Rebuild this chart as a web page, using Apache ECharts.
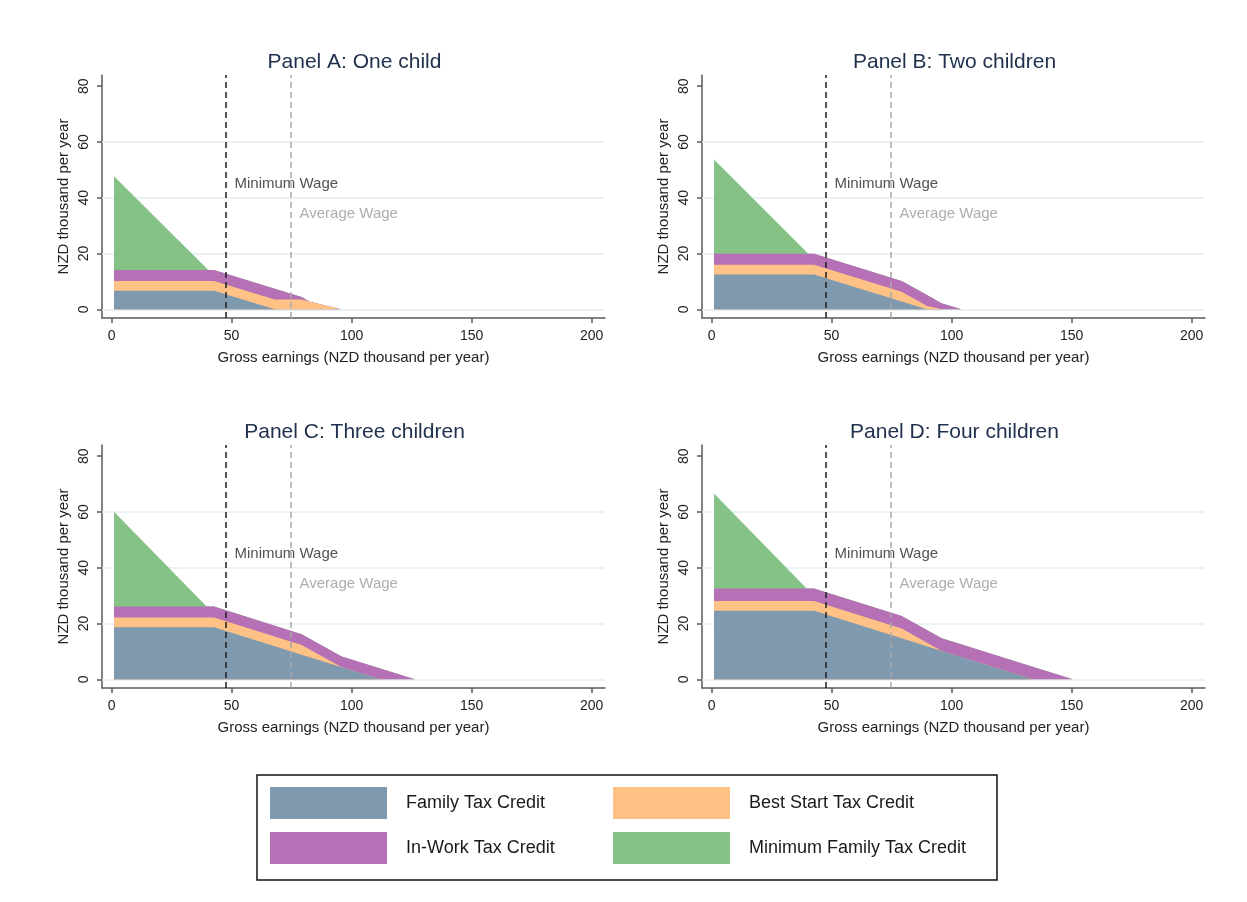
<!DOCTYPE html>
<html>
<head>
<meta charset="utf-8">
<title>Working for Families tax credits by number of children</title>
<script src="https://cdn.jsdelivr.net/npm/echarts@6/dist/echarts.min.js"></script>
<style>
  html, body { margin: 0; padding: 0; background: #ffffff; }
  #chart { width: 1247px; height: 902px; }
</style>
</head>
<body>
<div id="chart"></div>
<script>
// ---- Data (NZD thousand per year) ----
const creditNames = ['Family Tax Credit', 'Best Start Tax Credit', 'In-Work Tax Credit', 'Minimum Family Tax Credit'];
const panelTitles = ['Panel A: One child', 'Panel B: Two children', 'Panel C: Three children', 'Panel D: Four children'];
const xTicks = [0, 50, 100, 150, 200];
const yTicks = [0, 20, 40, 60, 80];
const yGridLines = [0, 20, 40, 60];
const wageNames = ['Minimum Wage', 'Average Wage'];
const wageValues = [47.5, 74.6];

// Panel A: one child
const earningsA  = [1, 40.3, 42.7, 68, 79.2, 82.4, 95.5];
const familyA    = [6.7, 6.7, 6.7, 0, 0, 0, 0];
const bestStartA = [3.5, 3.5, 3.5, 3.5, 3.5, 2.8, 0];
const inWorkA    = [3.9, 3.9, 3.9, 3.9, 0.9, 0, 0];
const minFamilyA = [33.6, 0, 0, 0, 0, 0, 0];

// Panel B: two children
const earningsB  = [1, 40.3, 42.7, 79.2, 89.6, 95.8, 104.1];
const familyB    = [12.5, 12.5, 12.5, 2.8, 0, 0, 0];
const bestStartB = [3.5, 3.5, 3.5, 3.5, 1.3, 0, 0];
const inWorkB    = [3.9, 3.9, 3.9, 3.9, 3.9, 2.2, 0];
const minFamilyB = [33.8, 0, 0, 0, 0, 0, 0];

// Panel C: three children
const earningsC  = [1, 39.6, 42.7, 79.2, 95.9, 112, 126.4];
const familyC    = [18.7, 18.7, 18.7, 8.8, 4.3, 0, 0];
const bestStartC = [3.5, 3.5, 3.5, 3.5, 0, 0, 0];
const inWorkC    = [3.9, 3.9, 3.9, 3.9, 3.9, 3.9, 0];
const minFamilyC = [34.0, 0, 0, 0, 0, 0, 0];

// Panel D: four children
const earningsD  = [1, 39.6, 42.7, 79.2, 95.9, 133.8, 150.5];
const familyD    = [24.6, 24.6, 24.6, 14.7, 10.2, 0, 0];
const bestStartD = [3.5, 3.5, 3.5, 3.5, 0, 0, 0];
const inWorkD    = [4.5, 4.5, 4.5, 4.5, 4.5, 4.5, 0];
const minFamilyD = [34.0, 0, 0, 0, 0, 0, 0];

// ---- Presentation ----
const FONT = '"Liberation Sans", Arial, Helvetica, sans-serif';
const creditColors = ['#7f99ae', '#fec186', '#b670b6', '#85c285'];
const wageLineColors = ['#1e1e1e', '#a8a8a8'];
const wageTextColors = ['#262626', '#999999'];
const wageLabelHeights = [44.9, 34.4];
const wageLabelShift = 3.5;

const panels = [
  { x: earningsA, parts: [familyA, bestStartA, inWorkA, minFamilyA] },
  { x: earningsB, parts: [familyB, bestStartB, inWorkB, minFamilyB] },
  { x: earningsC, parts: [familyC, bestStartC, inWorkC, minFamilyC] },
  { x: earningsD, parts: [familyD, bestStartD, inWorkD, minFamilyD] }
];

// running totals: layer k is drawn from 0 up to the sum of credits 0..k
function cumulative(parts) {
  const out = [];
  parts.forEach((arr, k) => {
    out.push(arr.map((v, i) => (k ? out[k - 1][i] : 0) + v));
  });
  return out;
}

const gridLeft = [102, 702];
const gridTop = [75, 445];
const gridW = 503, gridH = 243;
const axisColor = '#5a5a5a';

const grids = [], xAxes = [], yAxes = [], series = [], graphics = [];

panels.forEach((panel, p) => {
  const col = p % 2, row = Math.floor(p / 2);
  grids.push({ left: gridLeft[col], top: gridTop[row], width: gridW, height: gridH, containLabel: false });

  xAxes.push({
    gridIndex: p, type: 'value', min: -4, max: 205.6,
    axisLine: { show: true, onZero: false, lineStyle: { color: axisColor, width: 1.5 } },
    axisTick: { show: true, customValues: xTicks, length: 5, lineStyle: { color: axisColor, width: 1.5 } },
    axisLabel: { customValues: xTicks, fontSize: 14, color: '#222', margin: 11, fontFamily: FONT },
    splitLine: { show: false },
    name: 'Gross earnings (NZD thousand per year)', nameLocation: 'middle', nameGap: 32,
    nameTextStyle: { fontSize: 15, color: '#222', fontFamily: FONT }
  });
  yAxes.push({
    gridIndex: p, type: 'value', min: -3.1, max: 84,
    axisLine: { show: true, onZero: false, lineStyle: { color: axisColor, width: 1.5 } },
    axisTick: { show: true, customValues: yTicks, length: 5, lineStyle: { color: axisColor, width: 1.5 } },
    axisLabel: { customValues: yTicks, rotate: 90, fontSize: 14, color: '#222', margin: 11, fontFamily: FONT },
    splitLine: { show: false },
    name: 'NZD thousand per year', nameLocation: 'middle', nameGap: 31,
    nameTextStyle: { fontSize: 15, color: '#222', fontFamily: FONT }
  });

  // horizontal gridlines behind the areas
  series.push({
    type: 'line', xAxisIndex: p, yAxisIndex: p, data: [], silent: true, z: 1,
    markLine: {
      silent: true, symbol: 'none', z: 1, animation: false,
      label: { show: false },
      lineStyle: { color: '#e6eef0', width: 1.5, type: 'solid' },
      data: yGridLines.map(v => ({ yAxis: v }))
    }
  });

  // credit layers, widest total first so each narrower one sits on top
  const totals = cumulative(panel.parts);
  for (let k = creditNames.length - 1; k >= 0; k--) {
    series.push({
      type: 'line', name: creditNames[k], xAxisIndex: p, yAxisIndex: p,
      data: panel.x.map((x, i) => [x, totals[k][i]]),
      symbol: 'none', showSymbol: false, silent: true, animation: false,
      z: 2, zlevel: 0,
      lineStyle: { width: 0, color: creditColors[k] },
      itemStyle: { color: creditColors[k] },
      areaStyle: { color: creditColors[k], opacity: 1, origin: 0 }
    });
  }

  // minimum and average wage reference lines
  series.push({
    type: 'line', xAxisIndex: p, yAxisIndex: p, data: [], silent: true, z: 6,
    markLine: {
      silent: true, symbol: 'none', z: 6, animation: false,
      label: { show: false },
      data: wageValues.map((v, i) => ({
        xAxis: v,
        lineStyle: { color: wageLineColors[i], width: 1.5, type: [6, 4] }
      }))
    }
  });

  // wage annotations
  series.push({
    type: 'scatter', xAxisIndex: p, yAxisIndex: p, silent: true, z: 7, animation: false,
    symbolSize: 1, itemStyle: { color: 'rgba(0,0,0,0)' },
    data: wageValues.map((v, i) => ({
      name: wageNames[i],
      value: [v + wageLabelShift, wageLabelHeights[i]],
      label: { color: wageTextColors[i] }
    })),
    label: { show: true, position: 'right', distance: 0, formatter: '{b}', fontSize: 15, fontFamily: FONT }
  });

  graphics.push({
    type: 'text', x: gridLeft[col] + gridW / 2 + 1, y: gridTop[row] - 13,
    style: { text: panelTitles[p], fontSize: 21, fontFamily: FONT, fill: '#21324f', align: 'center', verticalAlign: 'middle' }
  });
});

// legend frame
graphics.push({
  type: 'rect', shape: { x: 257, y: 775, width: 740, height: 105 },
  style: { fill: 'none', stroke: '#111', lineWidth: 1.5 }
});

const legendBase = {
  orient: 'vertical', icon: 'rect', itemWidth: 117, itemHeight: 32, itemGap: 13, padding: 0,
  selectedMode: false,
  textStyle: { fontSize: 18, color: '#1a1a1a', fontFamily: FONT, padding: [0, 0, 0, 14] }
};

const chart = echarts.init(document.getElementById('chart'), null, { renderer: 'canvas' });
chart.setOption({
  backgroundColor: '#ffffff',
  animation: false,
  textStyle: { fontFamily: FONT },
  grid: grids,
  xAxis: xAxes,
  yAxis: yAxes,
  legend: [
    Object.assign({}, legendBase, { left: 270, top: 787, data: [creditNames[0], creditNames[2]] }),
    Object.assign({}, legendBase, { left: 613, top: 787, data: [creditNames[1], creditNames[3]] })
  ],
  series: series,
  graphic: graphics
});
</script>
</body>
</html>
